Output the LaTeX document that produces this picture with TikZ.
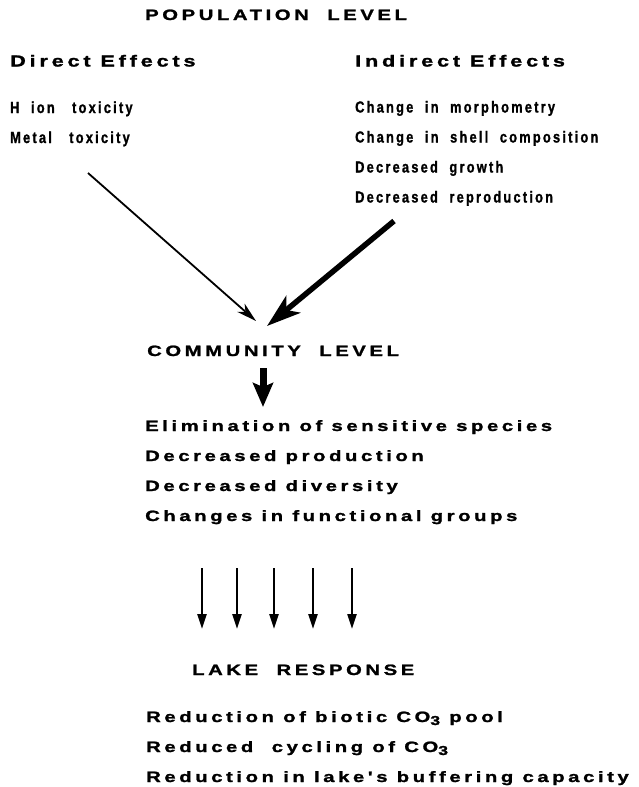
\documentclass[tikz,border=0pt]{standalone}
\usepackage{fontspec}
\setmainfont{Liberation Sans}
\newfontfamily\widefont{Liberation Sans}[FakeStretch=1.35,LetterSpace=24,FakeBold=1.5]
\newfontfamily\narrowfont{Liberation Sans}[FakeStretch=0.8,LetterSpace=14,FakeBold=1.2]
\usetikzlibrary{arrows.meta}
\newcommand{\subthree}{{\fontsize{13}{13}\selectfont\raisebox{-3pt}{3}}}
\begin{document}
\begin{tikzpicture}[x=1pt,y=-1pt,line cap=butt,
  headtxt/.style={font=\widefont\bfseries\fontsize{15}{15}\selectfont,anchor=base west,inner sep=0pt},
  subtxt/.style={font=\widefont\bfseries\fontsize{16}{16}\selectfont,anchor=base west,inner sep=0pt},
  itemtxt/.style={font=\narrowfont\bfseries\fontsize{16}{16}\selectfont,anchor=base west,inner sep=0pt},
  listtxt/.style={font=\widefont\bfseries\fontsize{15}{15}\selectfont,anchor=base west,inner sep=0pt},
  thinarrow/.style={line width=1.8pt,-{Stealth[length=20pt,width=11pt,inset=6pt]}},
  fatarrow/.style={line width=5.5pt,-{Stealth[length=34pt,width=22pt,inset=9pt]}},
  droparrow/.style={line width=7pt,-{Stealth[length=24pt,width=20pt,inset=4pt]}},
  linkarrow/.style={line width=2.2pt,-{Triangle[length=15pt,width=9pt]}}]
\useasboundingbox (0,0) rectangle (639,787);
\node[headtxt] (pop) at (145,20) {POPULATION\ \ LEVEL};
\node[subtxt] (direct) at (10,66.5) {Direct Effects};
\node[subtxt] (indirect) at (355,66.5) {Indirect Effects};
\node[itemtxt] (hion) at (10,113) {H\ \ ion\ \ \ toxicity};
\node[itemtxt] (metal) at (10,143) {Metal\ \ \ toxicity};
\node[itemtxt] (morph) at (355,112.5) {Change\ \ in\ \ morphometry};
\node[itemtxt] (shell) at (355,142.5) {Change\ \ in\ \ shell\ \ composition};
\node[itemtxt] (growth) at (355,172.5) {Decreased\ \ growth};
\node[itemtxt] (repro) at (355,202.5) {Decreased\ \ reproduction};
\coordinate (dstart) at (88,173);
\coordinate (dend) at (256,321);
\coordinate (istart) at (394,221);
\coordinate (iend) at (267,326);
\draw[thinarrow] (dstart) -- (dend);
\draw[fatarrow] (istart) -- (iend);
\node[headtxt] (comm) at (147,356) {COMMUNITY\ \ LEVEL};
\coordinate (cstart) at (263,368);
\coordinate (cend) at (263,407);
\draw[droparrow] (cstart) -- (cend);
\node[listtxt] (elim) at (145,431) {Elimination of sensitive species};
\node[listtxt] (prod) at (145,461) {Decreased production};
\node[listtxt] (divers) at (145,491) {Decreased diversity};
\node[listtxt] (funcgrp) at (145,521) {Changes in functional groups};
\foreach \x [count=\i] in {202,237,274,313,352}{
  \coordinate (ltop\i) at (\x,568);
  \coordinate (lbot\i) at (\x,629);
  \draw[linkarrow] (ltop\i) -- (lbot\i);
}
\node[headtxt] (lake) at (192,675) {LAKE\ \ RESPONSE};
\node[listtxt] (biotic) at (146,722) {Reduction of biotic CO\subthree\ pool};
\node[listtxt] (cycling) at (146,752) {Reduced\ \ cycling of CO\subthree};
\node[listtxt] (buffer) at (146,782) {Reduction in lake's buffering capacity};
\end{tikzpicture}
\end{document}
